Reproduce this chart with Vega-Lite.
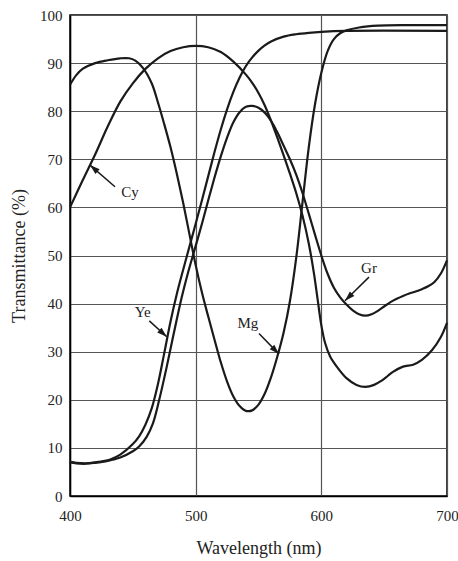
{
  "$schema": "https://vega.github.io/schema/vega-lite/v6.json",
  "autosize": {"type": "none"},
  "width": 377,
  "height": 481,
  "padding": {"left": 70, "top": 15, "right": 11, "bottom": 65},
  "background": "white",
  "config": {
    "font": "Liberation Serif",
    "view": {"stroke": "black", "strokeWidth": 1.5},
    "axis": {
      "labelFont": "Liberation Serif",
      "titleFont": "Liberation Serif",
      "labelColor": "#222",
      "titleColor": "#222",
      "titleFontWeight": "normal",
      "labelFontSize": 15,
      "titleFontSize": 18,
      "ticks": false,
      "domainColor": "black",
      "domainWidth": 1.5,
      "gridColor": "#555",
      "gridWidth": 1.2,
      "gridOpacity": 1
    }
  },
  "datasets": {
    "curves": [
      {"s":"Cy","w":400,"t":60},{"s":"Cy","w":410,"t":65.6},{"s":"Cy","w":420,"t":71},{"s":"Cy","w":430,"t":76.8},{"s":"Cy","w":440,"t":82},{"s":"Cy","w":450,"t":85.8},{"s":"Cy","w":460,"t":88.8},{"s":"Cy","w":470,"t":91},{"s":"Cy","w":480,"t":92.5},{"s":"Cy","w":490,"t":93.3},{"s":"Cy","w":500,"t":93.6},{"s":"Cy","w":510,"t":93.3},{"s":"Cy","w":520,"t":92.3},{"s":"Cy","w":530,"t":90.3},{"s":"Cy","w":540,"t":87.6},{"s":"Cy","w":545,"t":85.9},{"s":"Cy","w":550,"t":83.8},{"s":"Cy","w":555,"t":81.2},{"s":"Cy","w":560,"t":78},{"s":"Cy","w":565,"t":74.5},{"s":"Cy","w":570,"t":70.8},{"s":"Cy","w":575,"t":67},{"s":"Cy","w":580,"t":63},{"s":"Cy","w":585,"t":58.3},{"s":"Cy","w":590,"t":52.5},{"s":"Cy","w":594,"t":46.5},{"s":"Cy","w":597,"t":41},{"s":"Cy","w":600,"t":35.5},{"s":"Cy","w":603,"t":31.8},{"s":"Cy","w":607,"t":29},{"s":"Cy","w":612,"t":27},{"s":"Cy","w":620,"t":24.5},{"s":"Cy","w":628,"t":23.1},{"s":"Cy","w":635,"t":22.7},{"s":"Cy","w":642,"t":23.1},{"s":"Cy","w":648,"t":24},{"s":"Cy","w":653,"t":25},{"s":"Cy","w":657,"t":25.8},{"s":"Cy","w":665,"t":26.9},{"s":"Cy","w":673,"t":27.3},{"s":"Cy","w":680,"t":28.3},{"s":"Cy","w":688,"t":30.3},{"s":"Cy","w":695,"t":33},{"s":"Cy","w":700,"t":36},
      {"s":"Mg","w":400,"t":85.5},{"s":"Mg","w":405,"t":87.5},{"s":"Mg","w":410,"t":88.8},{"s":"Mg","w":420,"t":90},{"s":"Mg","w":430,"t":90.6},{"s":"Mg","w":440,"t":91},{"s":"Mg","w":447,"t":91},{"s":"Mg","w":452,"t":90.5},{"s":"Mg","w":458,"t":89},{"s":"Mg","w":465,"t":85.8},{"s":"Mg","w":470,"t":81.8},{"s":"Mg","w":475,"t":77.3},{"s":"Mg","w":480,"t":72.5},{"s":"Mg","w":485,"t":67},{"s":"Mg","w":490,"t":61},{"s":"Mg","w":495,"t":54.5},{"s":"Mg","w":500,"t":48},{"s":"Mg","w":505,"t":42.3},{"s":"Mg","w":510,"t":37.3},{"s":"Mg","w":515,"t":32.5},{"s":"Mg","w":520,"t":27.8},{"s":"Mg","w":525,"t":23.8},{"s":"Mg","w":530,"t":20.7},{"s":"Mg","w":535,"t":18.7},{"s":"Mg","w":540,"t":17.7},{"s":"Mg","w":545,"t":17.8},{"s":"Mg","w":550,"t":19},{"s":"Mg","w":555,"t":21.3},{"s":"Mg","w":560,"t":24.7},{"s":"Mg","w":565,"t":29},{"s":"Mg","w":570,"t":34},{"s":"Mg","w":575,"t":40.5},{"s":"Mg","w":580,"t":49.5},{"s":"Mg","w":585,"t":61},{"s":"Mg","w":590,"t":72.5},{"s":"Mg","w":595,"t":81.5},{"s":"Mg","w":600,"t":88},{"s":"Mg","w":605,"t":92.5},{"s":"Mg","w":610,"t":95},{"s":"Mg","w":615,"t":96.2},{"s":"Mg","w":620,"t":96.8},{"s":"Mg","w":630,"t":97.4},{"s":"Mg","w":645,"t":97.8},{"s":"Mg","w":670,"t":97.9},{"s":"Mg","w":700,"t":97.9},
      {"s":"Ye","w":400,"t":7.1},{"s":"Ye","w":405,"t":6.9},{"s":"Ye","w":412,"t":6.8},{"s":"Ye","w":420,"t":7},{"s":"Ye","w":432,"t":7.6},{"s":"Ye","w":440,"t":8.6},{"s":"Ye","w":450,"t":10.8},{"s":"Ye","w":455,"t":12.4},{"s":"Ye","w":460,"t":14.8},{"s":"Ye","w":465,"t":18.2},{"s":"Ye","w":470,"t":23.3},{"s":"Ye","w":475,"t":29.7},{"s":"Ye","w":480,"t":36.3},{"s":"Ye","w":485,"t":42},{"s":"Ye","w":490,"t":47},{"s":"Ye","w":495,"t":51.8},{"s":"Ye","w":500,"t":56.6},{"s":"Ye","w":505,"t":61.5},{"s":"Ye","w":510,"t":66.5},{"s":"Ye","w":515,"t":71.5},{"s":"Ye","w":520,"t":76.2},{"s":"Ye","w":525,"t":80.4},{"s":"Ye","w":530,"t":84},{"s":"Ye","w":535,"t":87},{"s":"Ye","w":540,"t":89.4},{"s":"Ye","w":545,"t":91.2},{"s":"Ye","w":550,"t":92.6},{"s":"Ye","w":555,"t":93.7},{"s":"Ye","w":560,"t":94.5},{"s":"Ye","w":570,"t":95.5},{"s":"Ye","w":580,"t":96},{"s":"Ye","w":590,"t":96.3},{"s":"Ye","w":600,"t":96.5},{"s":"Ye","w":620,"t":96.7},{"s":"Ye","w":700,"t":96.7},
      {"s":"Gr","w":400,"t":7},{"s":"Gr","w":405,"t":6.8},{"s":"Gr","w":412,"t":6.7},{"s":"Gr","w":420,"t":6.9},{"s":"Gr","w":430,"t":7.3},{"s":"Gr","w":440,"t":8},{"s":"Gr","w":450,"t":9.3},{"s":"Gr","w":455,"t":10.3},{"s":"Gr","w":461,"t":12.3},{"s":"Gr","w":466,"t":15.1},{"s":"Gr","w":471,"t":20},{"s":"Gr","w":477,"t":26.9},{"s":"Gr","w":482,"t":33.1},{"s":"Gr","w":489,"t":41.4},{"s":"Gr","w":494,"t":46.5},{"s":"Gr","w":500,"t":52},{"s":"Gr","w":505,"t":56.6},{"s":"Gr","w":510,"t":61.5},{"s":"Gr","w":515,"t":66.2},{"s":"Gr","w":520,"t":70.6},{"s":"Gr","w":525,"t":74.5},{"s":"Gr","w":530,"t":77.7},{"s":"Gr","w":535,"t":79.8},{"s":"Gr","w":540,"t":80.9},{"s":"Gr","w":545,"t":81.1},{"s":"Gr","w":550,"t":80.7},{"s":"Gr","w":555,"t":79.7},{"s":"Gr","w":560,"t":78},{"s":"Gr","w":565,"t":75.6},{"s":"Gr","w":570,"t":72.8},{"s":"Gr","w":575,"t":70},{"s":"Gr","w":580,"t":66.8},{"s":"Gr","w":585,"t":63},{"s":"Gr","w":590,"t":58.7},{"s":"Gr","w":595,"t":54.3},{"s":"Gr","w":600,"t":50},{"s":"Gr","w":605,"t":46.2},{"s":"Gr","w":610,"t":43.3},{"s":"Gr","w":615,"t":41.3},{"s":"Gr","w":620,"t":39.8},{"s":"Gr","w":625,"t":38.6},{"s":"Gr","w":630,"t":37.8},{"s":"Gr","w":635,"t":37.5},{"s":"Gr","w":640,"t":37.8},{"s":"Gr","w":645,"t":38.5},{"s":"Gr","w":650,"t":39.4},{"s":"Gr","w":655,"t":40.3},{"s":"Gr","w":660,"t":41},{"s":"Gr","w":665,"t":41.6},{"s":"Gr","w":670,"t":42.1},{"s":"Gr","w":675,"t":42.5},{"s":"Gr","w":680,"t":43},{"s":"Gr","w":685,"t":43.6},{"s":"Gr","w":690,"t":44.5},{"s":"Gr","w":695,"t":46.2},{"s":"Gr","w":700,"t":49}
    ],
    "arrows": [
      {"label":"Cy","x1":435.8,"y1":64.3,"x2":415.9,"y2":68.8,"tx":447.7,"ty":63.1},
      {"label":"Ye","x1":463.1,"y1":36.4,"x2":477,"y2":33.1,"tx":457.8,"ty":38.2},
      {"label":"Mg","x1":550.4,"y1":33.8,"x2":566.3,"y2":29.5,"tx":541.6,"ty":35.9},
      {"label":"Gr","x1":637.9,"y1":45.5,"x2":618.8,"y2":40.6,"tx":637.9,"ty":47.5}
    ]
  },
  "layer": [
    {
      "data": {"name": "curves"},
      "mark": {"type": "line", "interpolate": "catmull-rom", "color": "#1a1a1a", "strokeWidth": 2.2},
      "encoding": {
        "x": {"field": "w", "type": "quantitative",
              "scale": {"domain": [400, 700], "nice": false, "zero": false},
              "axis": {"values": [400, 500, 600, 700], "title": "Wavelength (nm)", "labelPadding": 12, "titlePadding": 16, "labelFlush": false}},
        "y": {"field": "t", "type": "quantitative",
              "scale": {"domain": [0, 100], "nice": false},
              "axis": {"values": [0,10,20,30,40,50,60,70,80,90,100], "title": "Transmittance (%)", "labelPadding": 8, "titlePadding": 11}},
        "detail": {"field": "s", "type": "nominal"}
      }
    },
    {
      "data": {"name": "arrows"},
      "mark": {"type": "rule", "color": "#1a1a1a", "strokeWidth": 1.5},
      "encoding": {
        "x": {"field": "x1", "type": "quantitative"},
        "y": {"field": "y1", "type": "quantitative"},
        "x2": {"field": "x2"},
        "y2": {"field": "y2"}
      }
    },
    {
      "data": {"name": "arrows"},
      "mark": {"type": "point", "shape": "M0,0L-0.32,1L0.32,1Z", "filled": true, "color": "#1a1a1a", "size": 400, "opacity": 1},
      "encoding": {
        "x": {"field": "x2", "type": "quantitative"},
        "y": {"field": "y2", "type": "quantitative"},
        "angle": {"field": "label", "type": "nominal",
                  "scale": {"type": "ordinal", "domain": ["Cy", "Ye", "Mg", "Gr"], "range": [311, 132.6, 136, 225.7]},
                  "legend": null}
      }
    },
    {
      "data": {"name": "arrows"},
      "mark": {"type": "text", "font": "Liberation Serif", "fontSize": 15, "color": "#222", "align": "center", "baseline": "middle"},
      "encoding": {
        "x": {"field": "tx", "type": "quantitative"},
        "y": {"field": "ty", "type": "quantitative"},
        "text": {"field": "label", "type": "nominal"}
      }
    }
  ]
}
